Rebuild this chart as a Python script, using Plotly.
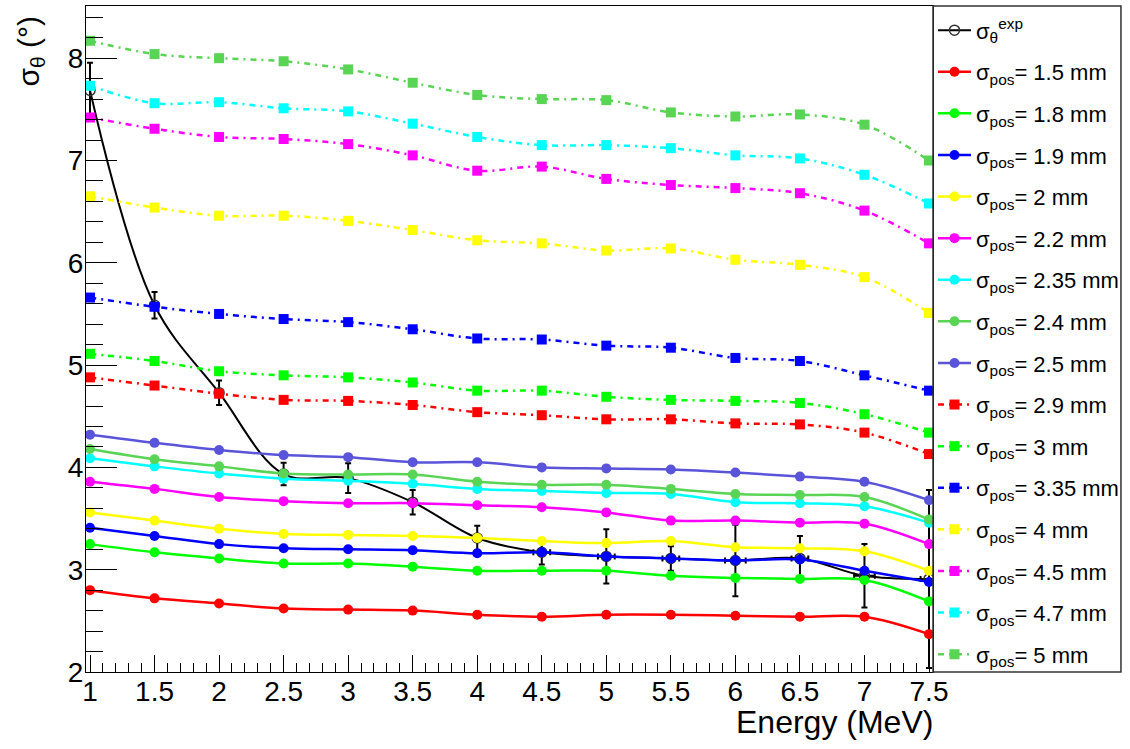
import plotly.graph_objects as go

# ---------------- data ----------------
energy = [1.0, 1.5, 2.0, 2.5, 3.0, 3.5, 4.0, 4.5, 5.0, 5.5, 6.0, 6.5, 7.0, 7.5]

exp_sigma = [7.685, 5.585, 4.73, 3.935, 3.895, 3.66, 3.31, 3.17, 3.13, 3.11, 3.09, 3.11, 2.94, 2.91]
exp_err = [0.27, 0.13, 0.12, 0.11, 0.145, 0.12, 0.12, 0.12, 0.265, 0.12, 0.35, 0.22, 0.31, 0.87]
exp_err_energy = [0, 0, 0, 0, 0, 0, 0, 0.065, 0.065, 0.065, 0.08, 0.065, 0.08, 0.065]

pos_1p5 = [2.80, 2.72, 2.67, 2.62, 2.61, 2.60, 2.56, 2.54, 2.56, 2.56, 2.55, 2.54, 2.54, 2.37]
pos_1p8 = [3.25, 3.17, 3.11, 3.06, 3.06, 3.03, 2.99, 2.99, 2.99, 2.94, 2.92, 2.91, 2.90, 2.69]
pos_1p9 = [3.41, 3.33, 3.25, 3.21, 3.20, 3.19, 3.16, 3.17, 3.13, 3.11, 3.09, 3.10, 2.99, 2.88]
pos_2p0 = [3.56, 3.48, 3.40, 3.35, 3.34, 3.33, 3.31, 3.28, 3.26, 3.28, 3.22, 3.21, 3.18, 2.99]
pos_2p2 = [3.86, 3.79, 3.71, 3.67, 3.65, 3.65, 3.63, 3.61, 3.56, 3.48, 3.48, 3.46, 3.45, 3.25]
pos_2p35 = [4.09, 4.01, 3.94, 3.89, 3.87, 3.84, 3.79, 3.77, 3.75, 3.74, 3.66, 3.65, 3.62, 3.46]
pos_2p4 = [4.18, 4.08, 4.01, 3.94, 3.93, 3.93, 3.86, 3.83, 3.83, 3.79, 3.74, 3.73, 3.71, 3.49]
pos_2p5 = [4.32, 4.24, 4.17, 4.12, 4.10, 4.05, 4.05, 4.00, 3.99, 3.98, 3.95, 3.91, 3.86, 3.68]
pos_2p9 = [4.88, 4.80, 4.72, 4.66, 4.65, 4.61, 4.54, 4.51, 4.47, 4.47, 4.43, 4.42, 4.34, 4.13]
pos_3p0 = [5.11, 5.04, 4.94, 4.90, 4.88, 4.83, 4.75, 4.75, 4.69, 4.66, 4.65, 4.63, 4.52, 4.34]
pos_3p35 = [5.66, 5.57, 5.50, 5.45, 5.42, 5.35, 5.26, 5.25, 5.19, 5.17, 5.07, 5.04, 4.90, 4.75]
pos_4p0 = [6.65, 6.54, 6.46, 6.46, 6.41, 6.32, 6.22, 6.19, 6.12, 6.14, 6.03, 5.98, 5.86, 5.51]
pos_4p5 = [7.42, 7.31, 7.23, 7.21, 7.16, 7.05, 6.90, 6.94, 6.82, 6.76, 6.73, 6.68, 6.51, 6.19]
pos_4p7 = [7.73, 7.56, 7.57, 7.51, 7.48, 7.36, 7.23, 7.15, 7.15, 7.12, 7.05, 7.02, 6.86, 6.58]
pos_5p0 = [8.17, 8.04, 8.00, 7.97, 7.89, 7.76, 7.64, 7.60, 7.59, 7.47, 7.43, 7.45, 7.35, 7.00]

solid_labels = ["1.5", "1.8", "1.9", "2", "2.2", "2.35", "2.4", "2.5"]
solid_series = [pos_1p5, pos_1p8, pos_1p9, pos_2p0, pos_2p2, pos_2p35, pos_2p4, pos_2p5]
dashed_labels = ["2.9", "3", "3.35", "4", "4.5", "4.7", "5"]
dashed_series = [pos_2p9, pos_3p0, pos_3p35, pos_4p0, pos_4p5, pos_4p7, pos_5p0]

root_colors = ["#ff0000", "#00ff00", "#0000ff", "#ffff00", "#ff00ff", "#00ffff", "#59d454", "#5954d9"]

x_tick_vals = [1, 1.5, 2, 2.5, 3, 3.5, 4, 4.5, 5, 5.5, 6, 6.5, 7, 7.5]
x_tick_text = ["1", "1.5", "2", "2.5", "3", "3.5", "4", "4.5", "5", "5.5", "6", "6.5", "7", "7.5"]

FONT = "Liberation Sans, Arial, Helvetica, sans-serif"

fig = go.Figure()

fig.add_trace(go.Scatter(
    x=energy, y=exp_sigma, mode="lines+markers",
    name="σ<sub>θ</sub><sup>exp</sup>", legendgroup="g0",
    line=dict(color="black", width=2, shape="spline", smoothing=1),
    marker=dict(symbol="circle-open", size=10, color="#333333", line=dict(width=1.5)),
    error_y=dict(type="data", array=exp_err, color="black", thickness=2, width=3),
    error_x=dict(type="data", array=exp_err_energy, color="black", thickness=2, width=3),
))

for i, (lab, ser) in enumerate(zip(solid_labels, solid_series)):
    fig.add_trace(go.Scatter(
        x=energy, y=ser, mode="lines+markers",
        name=f"σ<sub>pos</sub>= {lab} mm", legendgroup=f"s{i}",
        line=dict(color=root_colors[i], width=2.5, shape="spline", smoothing=1),
        marker=dict(symbol="circle", size=10, color=root_colors[i]),
    ))

for i, (lab, ser) in enumerate(zip(dashed_labels, dashed_series)):
    fig.add_trace(go.Scatter(
        x=energy, y=ser, mode="lines+markers",
        name=f"σ<sub>pos</sub>= {lab} mm", legendgroup=f"d{i}",
        line=dict(color=root_colors[i], width=2.5, shape="spline", smoothing=1,
                  dash="6px,5px,2px,5px"),
        marker=dict(symbol="square", size=10, color=root_colors[i]),
    ))

fig.update_xaxes(
    range=[0.969, 7.531], showgrid=False, zeroline=False,
    showline=True, linecolor="black", linewidth=1, mirror=True,
    ticks="inside", ticklen=17, tickwidth=1, tickcolor="black",
    tickvals=x_tick_vals, ticktext=x_tick_text,
    tickfont=dict(family=FONT, size=28, color="black"),
    ticklabelstandoff=-6,
    minor=dict(ticks="inside", ticklen=9, tickwidth=1, tickcolor="black", dtick=0.1, tick0=1),
)
fig.update_yaxes(
    range=[2, 8.51], showgrid=False, zeroline=False,
    showline=True, linecolor="black", linewidth=1, mirror=True,
    ticks="inside", ticklen=31, tickwidth=1, tickcolor="black",
    dtick=1, tick0=2,
    tickfont=dict(family=FONT, size=28, color="black"),
    ticklabelstandoff=-4,
    minor=dict(ticks="inside", ticklen=17, tickwidth=1, tickcolor="black", dtick=0.2, tick0=2),
)

# legend frame
fig.add_shape(type="rect", xref="paper", yref="paper", x0=1, x1=1.2219, y0=0, y1=1,
              line=dict(color="#333333", width=1.5), fillcolor="rgba(0,0,0,0)")

fig.update_layout(
    width=1130, height=749,
    margin=dict(l=86, r=197, t=6, b=77),
    paper_bgcolor="white", plot_bgcolor="white",
    showlegend=True,
    legend=dict(x=1.0, y=0.995, xanchor="left", yanchor="top",
                font=dict(family=FONT, size=22, color="black"),
                bgcolor="rgba(0,0,0,0)", borderwidth=0,
                tracegroupgap=10, itemwidth=33),
    annotations=[
        dict(text="σ<sub>θ</sub> (°)", textangle=-90, xref="paper", yref="paper",
             x=-0.066, y=0.988, xanchor="center", yanchor="top", showarrow=False,
             font=dict(family=FONT, size=30, color="black")),
        dict(text="Energy (MeV)", xref="paper", yref="paper",
             x=1.002, y=-0.075, xanchor="right", yanchor="middle", showarrow=False,
             font=dict(family=FONT, size=32, color="black")),
    ],
)

fig.write_html("out.html", config={"displayModeBar": False},
               post_script="document.body.style.margin='0';document.body.style.padding='0';")
